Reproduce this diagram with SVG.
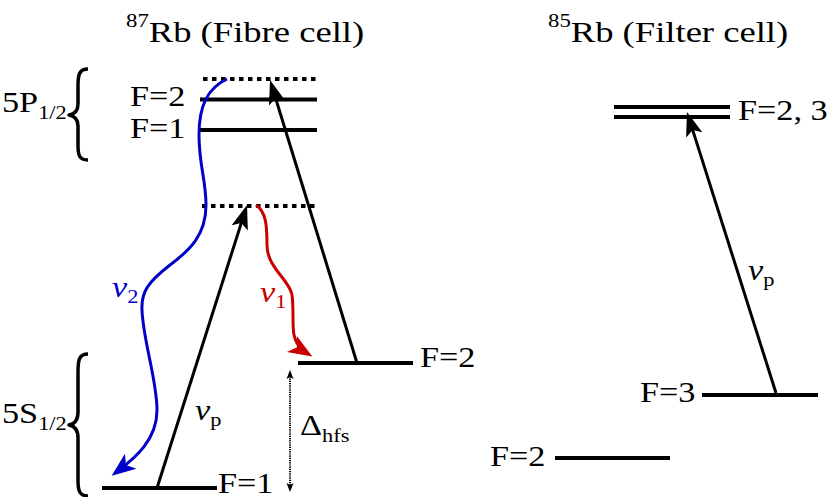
<svg xmlns="http://www.w3.org/2000/svg" width="830" height="497" viewBox="0 0 830 497">
<style>
.t{font-family:"Liberation Serif","Times New Roman",serif;font-size:29px;fill:#000}
.tt{font-size:30.5px}
.s{font-size:19px}
.i{font-style:italic}
.lv{stroke:#000;stroke-width:4;fill:none}
.dot{stroke:#000;stroke-width:4;fill:none;stroke-dasharray:4.5 4.5}
.ar{stroke:#000;stroke-width:3;fill:none;marker-end:url(#ah)}
.br{stroke:#000;stroke-width:3.5;fill:none;stroke-linejoin:round}
</style>
<defs>
<marker id="ah" markerUnits="userSpaceOnUse" markerWidth="30" markerHeight="22" refX="0" refY="0" orient="auto" overflow="visible">
<path d="M8,0 L-16,-8.5 L-11,0 L-16,8.5 Z" fill="#000"/>
</marker>
<marker id="ahb" markerUnits="userSpaceOnUse" markerWidth="30" markerHeight="22" refX="0" refY="0" orient="auto" overflow="visible">
<path d="M8,0 L-16,-9.5 L-10,0 L-16,9.5 Z" fill="#0000c8"/>
</marker>
<marker id="ahr" markerUnits="userSpaceOnUse" markerWidth="30" markerHeight="22" refX="0" refY="0" orient="auto" overflow="visible">
<path d="M8,0 L-16,-9.5 L-10,0 L-16,9.5 Z" fill="#c80000"/>
</marker>
<marker id="sm" markerUnits="userSpaceOnUse" markerWidth="10" markerHeight="8" refX="0" refY="0" orient="auto-start-reverse" overflow="visible">
<path d="M2,0 L-7,-3.5 L-5,0 L-7,3.5 Z" fill="#000"/>
</marker>
</defs>

<g id="title87">
<text class="t tt" transform="translate(126,42) scale(1.2,1)"><tspan class="s" dy="-15">87</tspan><tspan dy="15">Rb (Fibre cell)</tspan></text>
</g>
<g id="title85">
<text class="t tt" transform="translate(548,42) scale(1.2,1)"><tspan class="s" dy="-15">85</tspan><tspan dy="15">Rb (Filter cell)</tspan></text>
</g>

<g id="label5P">
<text class="t" transform="translate(2,112) scale(1.18,1)">5P<tspan class="s" dy="7">1/2</tspan></text>
<path class="br" d="M88,69 C79,69 78,75 78,86 L78,104 C78,111 75,114 69,115 C75,116 78,119 78,126 L78,145 C78,155 79,160 88,160"/>
</g>
<g id="label5S">
<text class="t" transform="translate(2,423) scale(1.18,1)">5S<tspan class="s" dy="7">1/2</tspan></text>
<path class="br" d="M88,354 C79,354 78,360 78,372 L78,412 C78,420 75,424 69,425 C75,426 78,430 78,438 L78,480 C78,490 79,496 88,496"/>
</g>

<g id="virt-top"><line class="dot" x1="203" y1="79" x2="318" y2="79"/></g>
<g id="p-F2">
<line class="lv" x1="200" y1="99.5" x2="317" y2="99.5"/>
<text class="t" transform="translate(130,106) scale(1.18,1)">F=2</text>
</g>
<g id="p-F1">
<line class="lv" x1="200" y1="130" x2="317" y2="130"/>
<text class="t" transform="translate(130,138) scale(1.18,1)">F=1</text>
</g>
<g id="virt-low"><line class="dot" x1="202" y1="206" x2="316" y2="206"/></g>
<g id="s-F2">
<line class="lv" x1="298" y1="363" x2="413" y2="363"/>
<text class="t" transform="translate(420,367) scale(1.18,1)">F=2</text>
</g>
<g id="s-F1">
<line class="lv" x1="102" y1="488" x2="217" y2="488"/>
<text class="t" transform="translate(218,493) scale(1.18,1)">F=1</text>
</g>

<g id="r-P">
<line class="lv" x1="614" y1="107" x2="730" y2="107"/>
<line class="lv" x1="614" y1="117" x2="730" y2="117"/>
<text class="t" transform="translate(738,120) scale(1.18,1)">F=2, 3</text>
</g>
<g id="r-F3">
<line class="lv" x1="702" y1="395" x2="818" y2="395"/>
<text class="t" transform="translate(640,402) scale(1.18,1)">F=3</text>
</g>
<g id="r-F2">
<line class="lv" x1="555" y1="458" x2="670" y2="458"/>
<text class="t" transform="translate(490,466) scale(1.18,1)">F=2</text>
</g>

<g id="connectors">
<line class="ar" x1="157" y1="488" x2="244.6" y2="212.6"/>
<line class="ar" x1="357" y1="363" x2="272.4" y2="87.7"/>
<line class="ar" x1="776" y1="393" x2="689.4" y2="119.6"/>
<path d="M227,79 C208,88 199,105 199,135 C199,165 206,180 206,205 C206,235 190,250 170,265 C148,282 141,292 142,310 C143,340 157,380 157,410 C157,440 135,458 118,471" stroke="#0000c8" stroke-width="3" fill="none" marker-end="url(#ahb)"/>
<path d="M256,205 C266,212 267,225 267,245 C267,268 290,280 292,295 C294,310 292,325 294,335 C296,344 300,349 305.5,352.4" stroke="#c80000" stroke-width="3" fill="none" marker-end="url(#ahr)"/>
<line x1="290" y1="372" x2="290" y2="490" stroke="#000" stroke-width="2" stroke-dasharray="1.2 1" marker-start="url(#sm)" marker-end="url(#sm)"/>
</g>

<g id="labels">
<text class="t" style="fill:#0000c8" transform="translate(112,297) scale(1.18,1)"><tspan class="i">ν</tspan><tspan class="s" dy="6">2</tspan></text>
<text class="t" style="fill:#c80000" transform="translate(260,302) scale(1.18,1)"><tspan class="i">ν</tspan><tspan class="s" dy="6">1</tspan></text>
<text class="t" transform="translate(195,420) scale(1.18,1)"><tspan class="i">ν</tspan><tspan class="s" dy="6">p</tspan></text>
<text class="t" transform="translate(748,280) scale(1.18,1)"><tspan class="i">ν</tspan><tspan class="s" dy="6">p</tspan></text>
<text class="t" transform="translate(300,435) scale(1.18,1)">Δ<tspan class="s" dy="7">hfs</tspan></text>
</g>
</svg>
